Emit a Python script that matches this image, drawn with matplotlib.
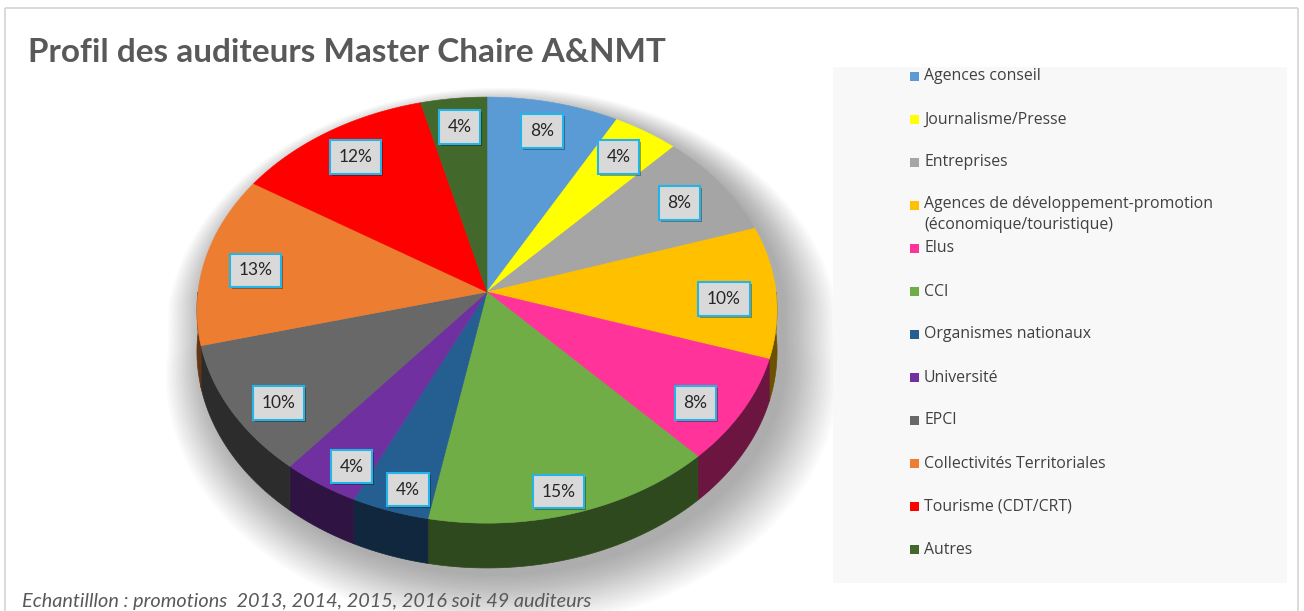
import numpy as np
import matplotlib
matplotlib.use("Agg")
import matplotlib.pyplot as plt
from matplotlib.patches import Polygon, Rectangle
from matplotlib.colors import to_rgb
import matplotlib.transforms as mtransforms

# ---------------- data ----------------
title = "Profil des auditeurs Master Chaire A&NMT"
caption = "Echantilllon : promotions  2013, 2014, 2015, 2016 soit 49 auditeurs"
categories = ["Agences conseil", "Journalisme/Presse", "Entreprises",
              "Agences de développement-promotion\n(économique/touristique)",
              "Elus", "CCI", "Organismes nationaux", "Université", "EPCI",
              "Collectivités Territoriales", "Tourisme (CDT/CRT)", "Autres"]
values = [8, 4, 8, 10, 8, 15, 4, 4, 10, 13, 12, 4]
colors = ["#5B9BD5", "#FFFF00", "#A5A5A5", "#FFC000", "#FF3399", "#70AD47",
          "#255E91", "#7030A0", "#686868", "#ED7D31", "#FF0000", "#43682B"]

# ---------------- figure ----------------
W, H = 1304, 611
fig = plt.figure(figsize=(W / 100, H / 100), dpi=100)
fig.patch.set_facecolor("white")
ax = fig.add_axes([0, 0, 1, 1])
ax.set_xlim(0, W)
ax.set_ylim(H, 0)
ax.axis("off")
renderer = fig.canvas.get_renderer()


def fit_size(text, target_w, base=10, **kw):
    t = ax.text(0, 0, text, fontsize=base, **kw)
    w = t.get_window_extent(renderer).width
    t.remove()
    return base * target_w / w


# chart frame
fc = "#D4D4D4"
ax.plot([5, 5], [8, H], color=fc, lw=1.2, solid_capstyle="butt")
ax.plot([5, 1298], [8, 8], color=fc, lw=1.2, solid_capstyle="butt")
ax.plot([1298, 1298], [8, H], color=fc, lw=1.2, solid_capstyle="butt")

# title
ts = fit_size(title, 639, family="Lato", weight="bold")
ax.text(28, 52, title, fontsize=ts, family="Lato", weight="bold",
        color="#595959", va="center", ha="left")

# caption
cs = fit_size(caption, 568, family="Lato", style="italic")
ax.text(22, 601, caption, fontsize=cs, family="Lato", style="italic",
        color="#595959", va="center", ha="left")

# ---------------- 3D pie ----------------
CX, CY = 487, 292
A, B, K = 289, 211.5, 0.085
DEPTH = 41


def proj(theta_deg, ru=1.0, rv=None, h=0.0):
    if rv is None:
        rv = ru
    t = np.radians(theta_deg)
    u = ru * np.sin(t)
    v = rv * np.cos(t)
    w = 1 + K * v
    return CX + A * u / w, CY + (-B * v + h) / w


def darker(c, f):
    r, g, b = to_rgb(c)
    return (r * f, g * f, b * f)


total = float(sum(values))
bounds = np.concatenate([[0], np.cumsum(values)]) * 360.0 / total

# soft shadow
th = np.linspace(0, 360, 361)
for i in range(22):
    s = 1.0 + 0.0075 * i
    front = np.cos(np.radians(th)) < 0
    xs, ys = proj(th, s)
    xb, yb = proj(th, s, h=DEPTH)
    xs = np.where(front, xb, xs)
    ys = np.where(front, yb, ys)
    ax.add_patch(Polygon(np.column_stack([xs + 9 + 0.3 * i, ys + 8 + 0.5 * i]),
                         closed=True, fc="black", ec="none", alpha=0.016, zorder=1))

# sides (front half)
for i, (a0, a1) in enumerate(zip(bounds[:-1], bounds[1:])):
    lo, hi = max(a0, 90), min(a1, 270)
    if hi <= lo:
        continue
    aa = np.linspace(lo, hi, max(int(hi - lo) * 2, 4))
    xt, yt = proj(aa)
    xb, yb = proj(aa[::-1], h=DEPTH)
    col = darker(colors[i], 0.42)
    ax.add_patch(Polygon(np.column_stack([np.r_[xt, xb], np.r_[yt, yb]]),
                         closed=True, fc=col, ec=col, lw=0.5, zorder=2))

# top face
for i, (a0, a1) in enumerate(zip(bounds[:-1], bounds[1:])):
    aa = np.linspace(a0, a1, max(int(a1 - a0) * 2, 4))
    xs, ys = proj(aa)
    pts = np.column_stack([np.r_[CX, xs], np.r_[CY, ys]])
    ax.add_patch(Polygon(pts, closed=True, fc=colors[i], ec=colors[i],
                         lw=0.4, zorder=3))

# data labels
shadow_tr = mtransforms.offset_copy(ax.transData, fig=fig, x=2, y=-2, units="dots")
for i, (a0, a1) in enumerate(zip(bounds[:-1], bounds[1:])):
    mid = (a0 + a1) / 2
    lx, ly = proj(mid, 0.82, 0.88)
    ly += 7
    lab = f"{values[i]}%"
    ax.text(lx, ly, lab, transform=shadow_tr, fontsize=12.5, family="Lato",
            color=(0, 0, 0, 0), ha="center", va="center", zorder=4,
            bbox=dict(boxstyle="square,pad=0.5", fc=(0, 0, 0, 0.35),
                      ec=(0, 0, 0, 0.0)))
    ax.text(lx, ly, lab, fontsize=12.5, family="Lato", color="#262626",
            ha="center", va="center", zorder=5,
            bbox=dict(boxstyle="square,pad=0.5", fc="#D9D9D9",
                      ec="#23B4E8", lw=1.5))

# ---------------- legend ----------------
ax.add_patch(Rectangle((833, 67), 454, 516, fc="#F8F8F8", ec="none", zorder=1))
ls = fit_size("Agences de développement-promotion", 289, family="Open Sans")
y0, dy = 76.5, 43.0
for i, cat in enumerate(categories):
    y = y0 + dy * i
    ax.add_patch(Rectangle((910, y - 4.5), 9, 9, fc=colors[i], ec="none", zorder=6))
    ax.text(924, y, cat, fontsize=ls, family="Open Sans", color="#404040",
            ha="left", va="top" if "\n" in cat else "center",
            linespacing=1.35, zorder=6,
            transform=ax.transData if "\n" not in cat else
            mtransforms.offset_copy(ax.transData, fig=fig, x=0, y=9, units="dots"))

fig.savefig("out.png", dpi=100, facecolor="white")
